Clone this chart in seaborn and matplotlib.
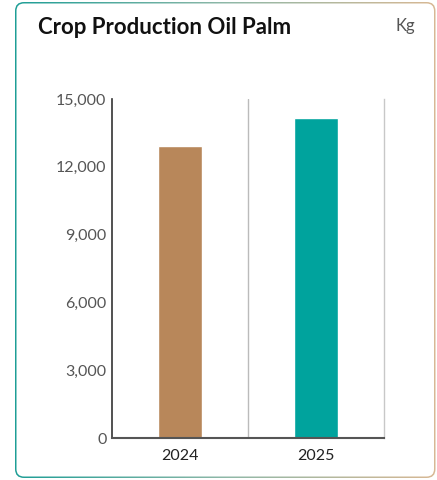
import numpy as np
import pandas as pd
import matplotlib
matplotlib.use("Agg")
import matplotlib.pyplot as plt
from matplotlib.patches import FancyBboxPatch
from matplotlib.colors import LinearSegmentedColormap
import seaborn as sns

# Data
years = ["2024", "2025"]
production = [12900, 14150]
bar_colors = ["#B8875A", "#00A39D"]
y_ticks = [0, 3000, 6000, 9000, 12000, 15000]
title = "Crop Production Oil Palm"
unit = "Kg"

sns.set_theme(style="white")
plt.rcParams["font.family"] = ["Lato", "DejaVu Sans"]

W, H = 437, 480
fig = plt.figure(figsize=(W / 100, H / 100), dpi=100)

# Card background with gradient border
bg = fig.add_axes([0, 0, 1, 1])
bg.set_xlim(0, W)
bg.set_ylim(H, 0)
bg.axis("off")
grad = np.linspace(0, 1, 256)[None, :]
cmap = LinearSegmentedColormap.from_list("b", ["#1E9E96", "#8FB8A8", "#D8B894"])
outer = FancyBboxPatch((15, 2), 420.5, 476, boxstyle="round,pad=0,rounding_size=9",
                       linewidth=0, facecolor="none", transform=bg.transData)
bg.add_patch(outer)
im = bg.imshow(grad, extent=[15, 435.5, 478, 2], cmap=cmap, aspect="auto", zorder=1)
im.set_clip_path(outer)
inner = FancyBboxPatch((16.5, 3.5), 417.5, 473, boxstyle="round,pad=0,rounding_size=7.5",
                       linewidth=0, facecolor="white", zorder=2, transform=bg.transData)
bg.add_patch(inner)

fig.text(38 / W, 1 - 28 / H, title, fontsize=16, fontweight="bold", color="#111111",
         ha="left", va="center")
fig.text(415 / W, 1 - 26 / H, unit, fontsize=12, fontweight="normal", color="#555555",
         ha="right", va="center")

ax = fig.add_axes([112 / W, 1 - 438 / H, (384 - 112) / W, (438 - 99) / H])
ax.set_facecolor("none")
df = pd.DataFrame({"year": years, "value": production})
sns.barplot(data=df, x="year", y="value", hue="year", palette=bar_colors,
            width=0.32, ax=ax, legend=False, saturation=1)
ax.set_xlim(-0.5, 1.5)
ax.set_ylim(0, 15000)
ax.axvline(0.5, color="#BBBBBB", linewidth=1, zorder=0)
ax.set_yticks(y_ticks)
ax.set_yticklabels([f"{v:,}" for v in y_ticks])
ax.set_xlabel("")
ax.set_ylabel("")
ax.tick_params(axis="y", length=0, pad=4, labelsize=11.5, labelcolor="#555555")
ax.tick_params(axis="x", length=0, pad=8, labelsize=11.5, labelcolor="#222222")
ax.spines["top"].set_visible(False)
ax.spines["left"].set_color("#333333")
ax.spines["left"].set_linewidth(1.2)
ax.spines["bottom"].set_color("#555555")
ax.spines["bottom"].set_linewidth(1.5)
ax.spines["right"].set_color("#C8C8C8")
ax.spines["right"].set_linewidth(1)

fig.savefig("out.png", dpi=100)
